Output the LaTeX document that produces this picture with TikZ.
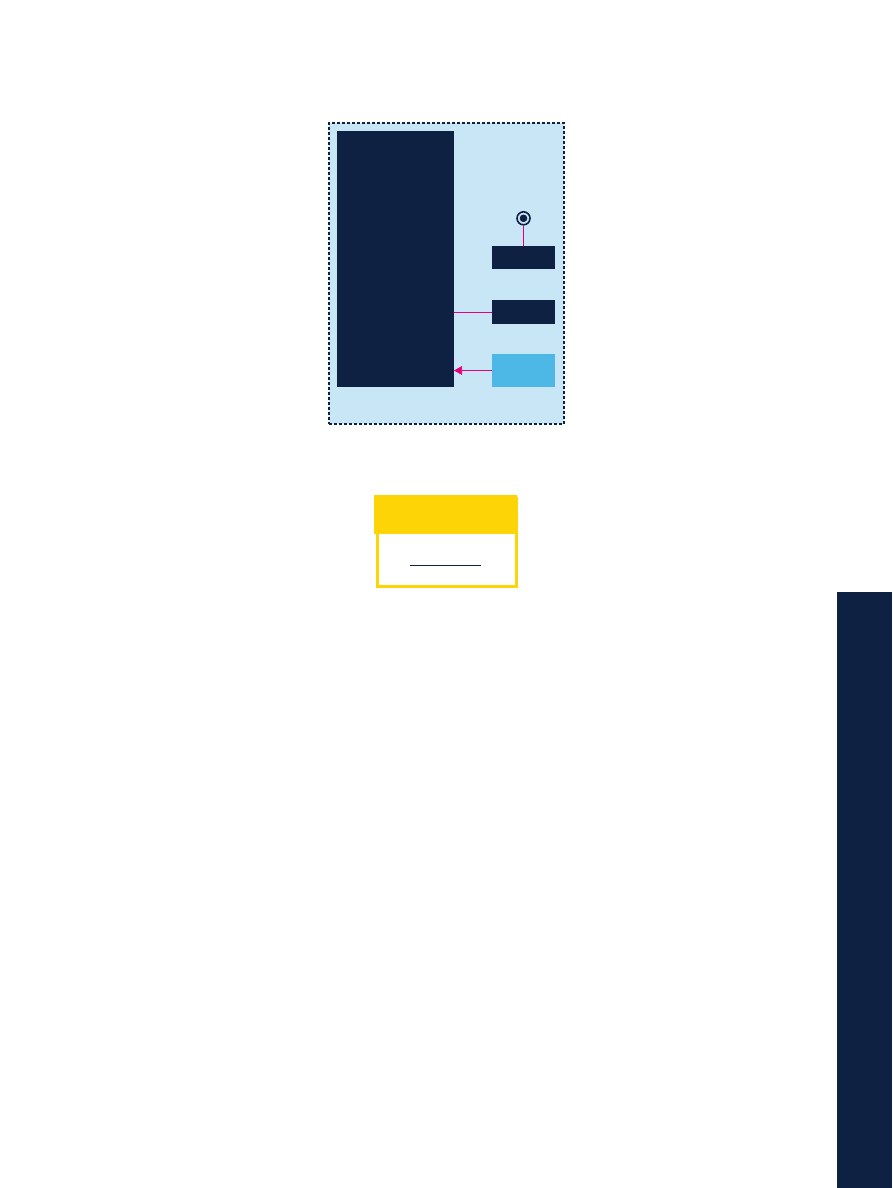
\documentclass[tikz,border=0pt]{standalone}
\usetikzlibrary{positioning,arrows.meta}
\definecolor{navy}{RGB}{15,33,67}
\definecolor{paleblue}{RGB}{201,230,246}
\definecolor{skyblue}{RGB}{77,184,230}
\definecolor{magenta}{RGB}{228,0,124}
\definecolor{gold}{RGB}{253,212,6}
\begin{document}
\begin{tikzpicture}[
        x=0.75pt,y=-0.75pt,
        sz/.style 2 args={minimum width=#1*0.75pt,minimum height=#2*0.75pt},
        block/.style={fill=navy,draw=none,inner sep=0pt,outer sep=0pt,anchor=north west},
        lightblock/.style={block,fill=skyblue},
        frame/.style={draw=navy,fill=paleblue,line width=1.8*0.75pt,dash pattern=on 3*0.75pt off 2*0.75pt,inner sep=0pt,anchor=north west},
        pin/.style={draw=navy,fill=paleblue,circle,line width=1.6*0.75pt,minimum size=13*0.75pt,inner sep=0pt},
        link/.style={draw=magenta,line width=0.7*0.75pt},
        % link/.style={draw=navy,line width=0.9pt},
        ]
    \useasboundingbox (0,0) rectangle (892,1188);
    \node (frame) [frame,sz={235}{301}] at (328.3,122) {};
    \node (main) [block,sz={117}{256}] at (337,131) {};
    \node (top) [block,sz={63}{23}] at (492,246) {};
    \node (mid) [block,sz={63}{24}] at (492,300) {};
    \node (low) [lightblock,sz={63}{33}] at (492,354) {};
    \node (pin) [pin] at (523.5,218.3) {};
    \fill[navy] (pin.center) circle (3.8*0.75pt);
    \draw[link] (pin.south) -- (top.north);
    \draw[link] (mid.west) -- (mid.west -| main.east);
    \draw[link,-{Triangle[length=6pt,width=6.5pt]}] (low.west) -- (low.west -| main.east);
    % legend
    \node (legendhead) [block,fill=gold,sz={142.7}{38.7}] at (374,495) {};
    \node (legend) [draw=gold,line width=3*0.75pt,inner sep=0pt,sz={139.7}{88.7},anchor=north west] at (375.5,496.5) {};
    \coordinate (rulel) at (410,565.3);
    \coordinate (ruler) at (480.7,565.3);
    \draw[navy,line width=0.8pt] (rulel) -- (ruler);
    % side bar
    \node (sidebar) [block,sz={55.3}{596}] at (836.7,592) {};
\end{tikzpicture}
\end{document}
